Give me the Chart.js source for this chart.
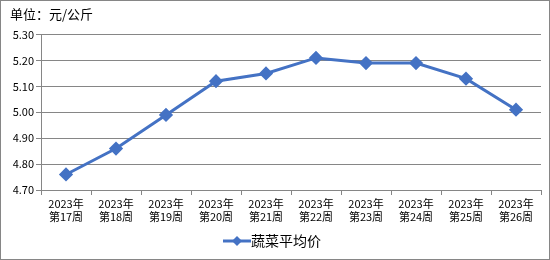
<!DOCTYPE html>
<html>
<head>
<meta charset="utf-8">
<script src="https://cdn.jsdelivr.net/npm/chart.js@4/dist/chart.umd.min.js"></script>
<style>
  html, body { margin: 0; padding: 0; background: #fff; }
  #wrap { width: 550px; height: 260px; }
</style>
</head>
<body>
<div id="wrap"><canvas id="grafico"></canvas></div>
<script>
// datos
const semanas = [
  ['2023年', '第17周'], ['2023年', '第18周'], ['2023年', '第19周'], ['2023年', '第20周'], ['2023年', '第21周'],
  ['2023年', '第22周'], ['2023年', '第23周'], ['2023年', '第24周'], ['2023年', '第25周'], ['2023年', '第26周']
];
const precios = [4.76, 4.86, 4.99, 5.12, 5.15, 5.21, 5.19, 5.19, 5.13, 5.01];
const serie = '蔬菜平均价';
const unidad = '单位：元/公斤';
const yMin = 4.70, yMax = 5.30, yPaso = 0.10;

const azul = '#4472C4';
const gris = '#868686';
const fuente = '"Noto Sans CJK SC", "DejaVu Sans", sans-serif';

// marca de la leyenda: linea con rombo
const marca = document.createElement('canvas');
marca.width = 28; marca.height = 10;
const m = marca.getContext('2d');
m.strokeStyle = azul; m.lineWidth = 3;
m.beginPath(); m.moveTo(0, 5); m.lineTo(28, 5); m.stroke();
m.fillStyle = azul;
m.beginPath(); m.moveTo(14, 0); m.lineTo(19, 5); m.lineTo(14, 10); m.lineTo(9, 5); m.closePath(); m.fill();

// borde exterior
const borde = {
  id: 'borde',
  afterDraw(chart) {
    const c = chart.ctx;
    c.save();
    c.strokeStyle = gris; c.lineWidth = 1;
    c.strokeRect(0.5, 0.5, chart.width - 1, chart.height - 1);
    c.restore();
  }
};

new Chart(document.getElementById('grafico'), {
  type: 'line',
  data: {
    labels: semanas,
    datasets: [{
      label: serie,
      data: precios,
      borderColor: azul,
      backgroundColor: azul,
      borderWidth: 3,
      pointStyle: 'rectRot',
      pointRadius: 5,
      pointHoverRadius: 5,
      tension: 0
    }]
  },
  options: {
    responsive: true,
    maintainAspectRatio: false,
    animation: false,
    layout: { padding: { left: 10, top: 4, right: 9, bottom: 2 } },
    plugins: {
      title: {
        display: true,
        text: unidad,
        align: 'start',
        color: '#000',
        font: { family: fuente, size: 13, weight: 'normal' },
        padding: { top: 2, bottom: 13 }
      },
      legend: {
        position: 'bottom',
        labels: {
          usePointStyle: true,
          pointStyle: marca,
          color: '#000',
          font: { family: fuente, size: 14 },
          padding: 6
        }
      },
      tooltip: { enabled: false }
    },
    scales: {
      x: {
        offset: true,
        grid: { offset: true, drawOnChartArea: false, drawTicks: true, tickLength: 5, color: gris },
        border: { color: gris },
        ticks: { color: '#000', font: { family: fuente, size: 11 }, padding: 2, maxRotation: 0, autoSkip: false },
        afterFit(s) { s.height = 38; }
      },
      y: {
        min: yMin,
        max: yMax,
        grid: { color: gris, tickLength: 5 },
        border: { color: gris },
        ticks: {
          stepSize: yPaso,
          color: '#000',
          font: { family: fuente, size: 11 },
          padding: 2,
          callback: v => v.toFixed(2)
        },
        afterFit(s) { s.width = 31; }
      }
    }
  },
  plugins: [borde]
});
</script>
</body>
</html>
